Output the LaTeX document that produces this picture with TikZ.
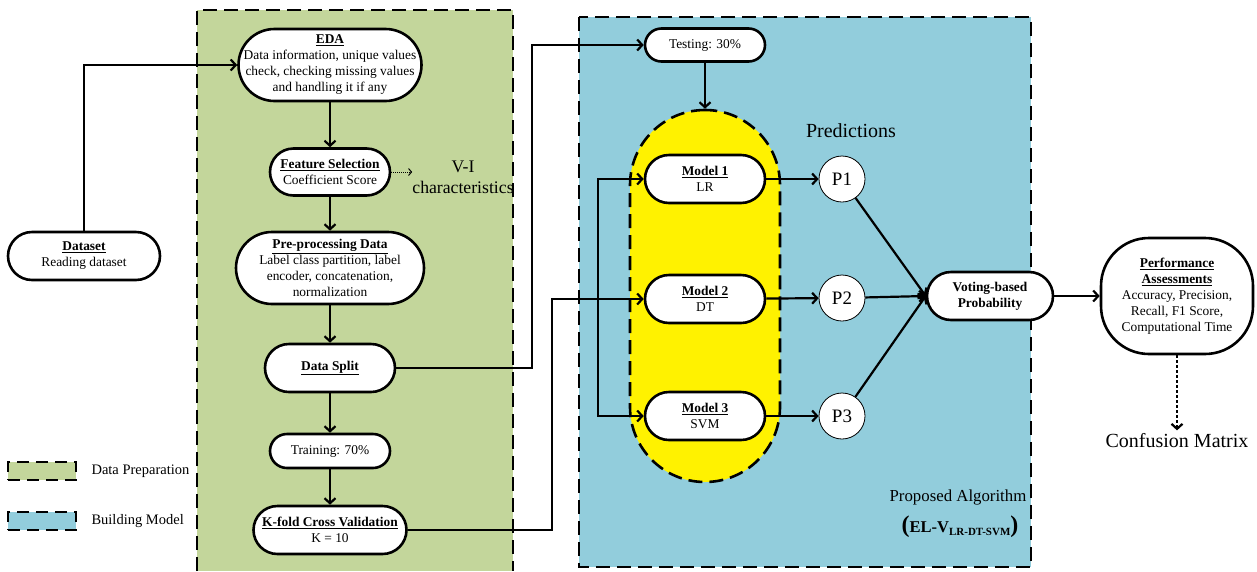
\documentclass[tikz,border=0pt]{standalone}
\usepackage{fontspec}
\setmainfont{Liberation Serif}
\usetikzlibrary{arrows.meta}
\definecolor{prepgreen}{HTML}{C3D69B}
\definecolor{modelblue}{HTML}{92CDDC}
\begin{document}
\begin{tikzpicture}[x=1pt, y=-1pt,
    >={Straight Barb[length=5pt,width=11pt]},
    pill/.style 2 args={draw, fill=white, line width=2.6pt, rounded corners=#2pt*0.5,
      minimum width=#1pt, minimum height=#2pt, inner sep=0pt, align=center,
      font=\fontsize{13.4}{16}\selectfont},
    pred/.style={circle, draw, fill=white, line width=0.8pt, minimum size=46pt,
      inner sep=0pt, font=\fontsize{19}{19}\selectfont},
    zone/.style={line width=2.6pt, dash pattern=on 14pt off 7pt},
    flow/.style={->, line width=2.2pt}]
    \useasboundingbox (0,0) rectangle (1257,571);
    \fill[prepgreen] (197,10) rectangle (513,571);
    \draw[zone] (197,571) -- (197,10) -- (513,10) -- (513,571);
    \draw[zone, fill=modelblue] (579,17) rectangle (1031,567);
    \node[draw, zone, fill=yellow, rounded corners=75pt, minimum width=150pt,
      minimum height=372pt] (ens) at (705,296) {};

    \node[pill={152}{48}] (data) at (84,256) {\underline{\textbf{Dataset}}\\Reading dataset};
    \node[pill={183}{72}] (eda) at (330,65) {\underline{\textbf{EDA}}\\Data information, unique values\\check, checking missing values\\and handling it if any};
    \node[pill={120}{47}] (fsel) at (330,172) {\underline{\textbf{Feature Selection}}\\Coefficient Score};
    \node[pill={188}{72}] (prep) at (330,268) {\underline{\textbf{Pre-processing Data}}\\Label class partition, label\\encoder, concatenation,\\normalization};
    \node[pill={130}{48}] (split) at (330,368) {\underline{\textbf{Data Split}}};
    \node[pill={120}{34}] (train) at (330,451) {Training: 70\%};
    \node[pill={153}{48}] (kfold) at (330,530) {\underline{\textbf{K-fold Cross Validation}}\\K = 10};
    \node[align=center, inner sep=0pt, font=\fontsize{17.7}{21}\selectfont] (vi) at (463,177) {V-I\\characteristics};

    \node[pill={120}{33}] (test) at (705,45) {Testing: 30\%};
    \node[pill={120}{48}] (m1) at (705,179) {\underline{\textbf{Model 1}}\\LR};
    \node[pill={120}{48}] (m2) at (705,299) {\underline{\textbf{Model 2}}\\DT};
    \node[pill={120}{48}] (m3) at (705,416) {\underline{\textbf{Model 3}}\\SVM};
    \node[font=\fontsize{20}{20}\selectfont] (predtxt) at (851,131) {Predictions};
    \node[pred] (p1) at (842,179) {P1};
    \node[pred] (p2) at (842,298) {P2};
    \node[pred] (p3) at (842,416) {P3};
    \node[pill={126}{48}] (vote) at (990,296) {\textbf{Voting-based}\\\textbf{Probability}};
    \node[font=\fontsize{16.8}{18}\selectfont] (alg) at (958,497) {Proposed Algorithm};
    \node (elv) at (960,527) {\fontsize{24}{24}\selectfont\textbf{(}\fontsize{16.5}{18}\selectfont\textbf{EL-V}\raisebox{-2.5pt}{\fontsize{11}{11}\selectfont\textbf{LR-DT-SVM}}\fontsize{24}{24}\selectfont\textbf{)}};

    \node[pill={152}{116}, rounded corners=48pt] (perf) at (1177,296) {\underline{\textbf{Performance}}\\\underline{\textbf{Assessments}}\\Accuracy, Precision,\\Recall, F1 Score,\\Computational Time};
    \node[font=\fontsize{20}{20}\selectfont] (conf) at (1177,441) {Confusion Matrix};

    \node[draw, zone, dash pattern=on 12pt off 7pt, fill=prepgreen, minimum width=68pt, minimum height=18pt, inner sep=0pt] (lgprep) at (42,471) {};
    \node[anchor=west, font=\fontsize{14.5}{16}\selectfont] (lgpreptxt) at (88,471) {Data Preparation};
    \node[draw, zone, dash pattern=on 12pt off 7pt, fill=modelblue, minimum width=68pt, minimum height=18pt, inner sep=0pt] (lgmodel) at (42,521) {};
    \node[anchor=west, font=\fontsize{14.5}{16}\selectfont] (lgmodeltxt) at (88,521) {Building Model};

    \coordinate (tsx) at (532,368);
    \coordinate (kfx) at (552,530);
    \coordinate (mfork) at (598,299);
    \draw[flow] (data) |- (eda.west);
    \draw[flow] (eda) -- (fsel);
    \draw[->, densely dotted, line width=1pt, >={Straight Barb[length=3pt,width=7pt]}] (fsel.east) -- (fsel.east -| vi.west);
    \draw[flow] (fsel) -- (prep);
    \draw[flow] (prep) -- (split);
    \draw[flow] (split) -- (train);
    \draw[flow] (train) -- (kfold);
    \draw[flow] (split.east) -- (tsx) |- (test.west);
    \draw[flow] (test) -- (ens.north);
    \draw[flow] (kfold.east) -- (kfx) |- (m2.west);
    \draw[flow] (mfork) |- (m1.west);
    \draw[flow] (mfork) |- (m3.west);
    \draw[flow] (m1) -- (p1);
    \draw[flow] (m2) -- (p2);
    \draw[flow] (m3) -- (p3);
    \draw[flow] (p1) -- (vote.west);
    \draw[flow] (p2) -- (vote.west);
    \draw[flow] (p3) -- (vote.west);
    \draw[flow] (vote) -- (perf);
    \draw[flow, dash pattern=on 3pt off 2pt] (perf) -- (conf);
\end{tikzpicture}
\end{document}
